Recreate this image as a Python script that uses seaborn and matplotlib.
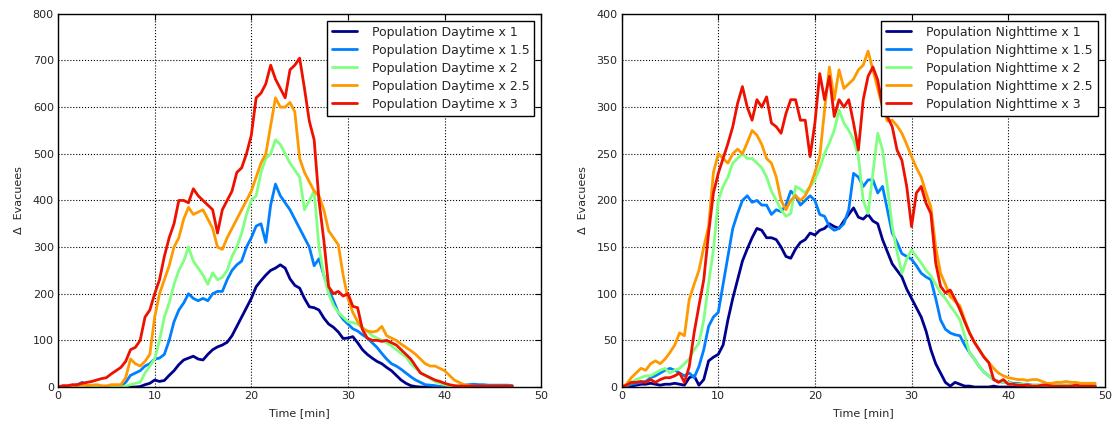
import numpy as np
import pandas as pd
import matplotlib
matplotlib.use("Agg")
import matplotlib.pyplot as plt
import seaborn as sns

# values every 0.5 min
day_x1 = [0, 0, 0, 0, 0, 0, 0, 0, 0, 0,
          0, 0, 0, 0, 0, 0, 0, 1, 5, 8,
          15, 12, 14, 25, 35, 48, 58, 62, 66, 60,
          58, 70, 80, 86, 90, 96, 110, 130, 150, 170,
          190, 215, 228, 240, 250, 255, 262, 255, 232, 218,
          212, 190, 172, 170, 165, 148, 135, 128, 118, 104,
          105, 108, 95, 80, 70, 62, 55, 50, 42, 35,
          25, 15, 8, 3, 1, 0, 0, 0, 0, 0,
          0, 0, 0, 0, 0, 0, 0, 0, 0, 0,
          0, 0, 0, 0, 0]
day_x15 = [0, 0, 0, 2, 5, 10, 3, 2, 0, 1,
           2, 0, 0, 3, 10, 25, 30, 35, 45, 50,
           60, 62, 70, 100, 140, 165, 180, 200, 190, 185,
           190, 185, 200, 205, 205, 230, 250, 262, 270, 300,
           320, 345, 350, 310, 390, 435, 410, 395, 380, 360,
           340, 320, 300, 260, 275, 240, 210, 185, 160, 145,
           135, 125, 120, 112, 105, 95, 85, 72, 60, 50,
           45, 38, 30, 22, 15, 10, 5, 4, 3, 1,
           0, 0, 1, 2, 4, 5, 6, 5, 5, 4,
           4, 4, 4, 4, 3]
day_x2 = [0, 0, 0, 0, 0, 0, 0, 0, 0, 0,
          0, 0, 0, 0, 2, 5, 8, 10, 30, 45,
          60, 100, 150, 180, 220, 250, 270, 300, 270, 255,
          240, 220, 245, 230, 235, 250, 280, 300, 330, 370,
          400, 410, 460, 490, 500, 530, 520, 500, 480, 465,
          450, 380, 400, 420, 300, 240, 200, 175, 160, 150,
          140, 138, 135, 128, 120, 110, 105, 100, 95, 88,
          80, 72, 65, 50, 40, 32, 25, 18, 12, 8,
          5, 3, 2, 1, 0, 0, 0, 0, 0, 0,
          0, 0, 0, 0, 0]
day_x25 = [0, 0, 0, 2, 3, 5, 3, 4, 5, 3,
           2, 5, 5, 5, 20, 60, 50, 45, 55, 70,
           150, 200, 230, 260, 300, 320, 360, 385, 370, 375,
           380, 360, 340, 300, 295, 320, 340, 360, 380, 400,
           420, 450, 480, 500, 560, 620, 600, 600, 610, 590,
           490, 460, 440, 420, 410, 380, 335, 320, 305, 240,
           190, 160, 140, 125, 120, 118, 120, 130, 110, 105,
           100, 92, 85, 78, 70, 60, 50, 45, 45, 40,
           35, 25, 15, 10, 5, 3, 2, 1, 2, 2,
           2, 2, 2, 2, 2]
day_x3 = [0, 3, 3, 5, 5, 8, 10, 12, 15, 18,
          20, 28, 35, 42, 55, 80, 85, 100, 150, 165,
          200, 230, 280, 320, 350, 400, 400, 395, 425, 410,
          400, 390, 380, 330, 380, 400, 420, 460, 470, 500,
          540, 620, 630, 650, 690, 660, 640, 620, 680, 690,
          705, 640, 570, 530, 400, 315, 215, 200, 205, 195,
          200, 173, 170, 123, 105, 100, 100, 98, 100, 95,
          90, 80, 70, 60, 45, 30, 25, 20, 15, 12,
          8, 5, 3, 2, 2, 2, 2, 2, 2, 2,
          2, 2, 2, 2, 2]

night_x1 = [0, 0, 1, 2, 3, 3, 4, 3, 2, 3,
            3, 4, 3, 2, 10, 12, 2, 8, 28, 32,
            35, 45, 72, 95, 115, 135, 148, 160, 170, 168,
            160, 160, 158, 150, 140, 138, 148, 155, 158, 165,
            163, 168, 170, 175, 172, 170, 178, 185, 192, 182,
            180, 185, 178, 175, 158, 145, 132, 125, 118, 105,
            95, 85, 75, 60, 40, 25, 15, 5, 1, 5,
            3, 1, 1, 0, 0, 0, 0, 1, 0, 0,
            0, 0, 0, 0, 0, 0, 0, 0, 0, 0,
            0, 0, 0, 0, 0, 0, 0, 0, 0]
night_x15 = [0, 1, 3, 4, 5, 6, 10, 12, 15, 18,
             20, 18, 15, 12, 15, 10, 22, 40, 65, 75,
             80, 110, 140, 170, 186, 200, 205, 198, 200, 195,
             195, 185, 190, 188, 195, 210, 205, 195, 200, 205,
             200, 185, 183, 172, 168, 170, 175, 190, 229, 225,
             215, 222, 222, 208, 215, 190, 165, 155, 143, 140,
             137, 130, 122, 118, 115, 95, 72, 62, 58, 56,
             55, 45, 37, 30, 22, 16, 12, 8, 6, 5,
             5, 4, 4, 3, 3, 2, 2, 2, 2, 2,
             2, 2, 2, 2, 2, 2, 2, 2, 2]
night_x2 = [0, 2, 5, 8, 10, 12, 12, 15, 18, 20,
            15, 18, 20, 25, 30, 40, 47, 72, 111, 147,
            200, 215, 225, 240, 245, 250, 245, 245, 240, 235,
            225, 210, 200, 190, 183, 186, 215, 212, 208, 215,
            222, 235, 250, 262, 275, 297, 283, 275, 265, 247,
            200, 186, 229, 272, 254, 215, 172, 145, 122, 137,
            147, 140, 133, 125, 119, 110, 101, 95, 87, 80,
            72, 55, 37, 30, 22, 16, 12, 8, 6, 5,
            5, 3, 3, 3, 2, 2, 2, 2, 2, 2,
            2, 2, 2, 2, 2, 2, 2, 2, 2]
night_x25 = [0, 3, 10, 15, 20, 18, 25, 28, 25, 30,
             37, 45, 58, 55, 94, 110, 125, 150, 172, 230,
             250, 245, 240, 250, 255, 250, 262, 275, 270, 260,
             245, 240, 225, 200, 190, 200, 205, 200, 205, 215,
             230, 247, 297, 343, 308, 340, 320, 325, 330, 340,
             345, 360, 340, 320, 300, 285, 286, 280, 272, 260,
             247, 235, 225, 208, 193, 150, 122, 110, 97, 92,
             87, 72, 58, 48, 40, 32, 26, 20, 15, 12,
             10, 9, 8, 8, 7, 8, 8, 6, 4, 4,
             5, 5, 6, 5, 5, 4, 4, 4, 4]
night_x3 = [0, 2, 5, 5, 6, 5, 8, 5, 8, 10,
            10, 12, 15, 5, 22, 58, 87, 115, 165, 208,
            229, 245, 261, 279, 304, 322, 300, 286, 308, 300,
            311, 283, 279, 272, 293, 308, 308, 286, 286, 247,
            283, 336, 308, 333, 290, 308, 300, 308, 283, 254,
            308, 333, 343, 329, 300, 290, 279, 254, 243, 215,
            172, 208, 215, 197, 186, 133, 108, 101, 104, 94,
            83, 70, 58, 48, 40, 32, 26, 8, 5, 8,
            3, 3, 2, 2, 2, 1, 1, 2, 2, 1,
            1, 1, 1, 1, 2, 1, 1, 1, 1]

factors = ["1", "1.5", "2", "2.5", "3"]
colors = ["#00008f", "#0080ff", "#80ff80", "#ff9900", "#ee1100"]
day_series = [day_x1, day_x15, day_x2, day_x25, day_x3]
night_series = [night_x1, night_x15, night_x2, night_x25, night_x3]
step = 0.5

sns.set_style("white")
plt.rcParams["font.family"] = ["DejaVu Sans"]

fig = plt.figure(figsize=(11.16, 4.26), dpi=100)
ax1 = fig.add_axes([0.052, 0.0915, 0.433, 0.876])
ax2 = fig.add_axes([0.557, 0.0915, 0.433, 0.876])


def draw(ax, series, kind, ymax, ystep):
    for vals, f, c in zip(series, factors, colors):
        df = pd.DataFrame({"t": np.arange(len(vals)) * step, "v": vals})
        sns.lineplot(data=df, x="t", y="v", ax=ax, color=c, linewidth=2,
                     label="Population %s x %s" % (kind, f))
    ax.set_xlim(0, 50)
    ax.set_ylim(0, ymax)
    ax.set_xticks(range(0, 51, 10))
    ax.set_yticks(range(0, ymax + 1, ystep))
    ax.grid(True, color="black", linestyle=":", linewidth=0.8)
    ax.tick_params(direction="in", top=True, right=True, labelsize=8,
                   length=4, color="black", pad=3)
    for s in ax.spines.values():
        s.set_color("black")
        s.set_linewidth(1)
    ax.set_xlabel("Time [min]", fontsize=8, labelpad=5)
    ax.set_ylabel("Δ  Evacuees", fontsize=8, labelpad=6)
    leg = ax.legend(loc="upper right", fontsize=9, fancybox=False,
                    framealpha=1, edgecolor="black", handlelength=2.0,
                    handletextpad=1.2, borderaxespad=0.55, labelspacing=0.4)
    leg.get_frame().set_linewidth(1)


draw(ax1, day_series, "Daytime", 800, 100)
draw(ax2, night_series, "Nighttime", 400, 50)

fig.savefig("out.png", dpi=100)
